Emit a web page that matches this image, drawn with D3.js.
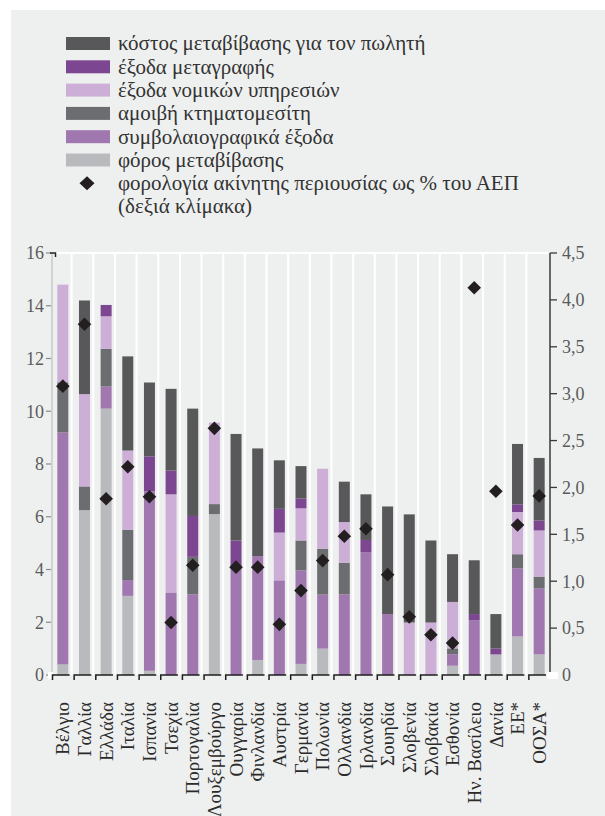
<!DOCTYPE html>
<html>
<head>
<meta charset="utf-8">
<script src="https://cdn.jsdelivr.net/npm/d3@7/dist/d3.min.js"></script>
<style>
  html, body { margin: 0; padding: 0; background: #ffffff; }
  svg { display: block; }
  text { font-family: "Liberation Serif", "DejaVu Serif", serif; }
</style>
</head>
<body>
<svg id="chart" width="605" height="816"></svg>
<script>
// ---- data ----
const categories = ["Βέλγιο","Γαλλία","Ελλάδα","Ιταλία","Ισπανία","Τσεχία","Πορτογαλία","Λουξεμβούργο","Ουγγαρία","Φινλανδία","Αυστρία","Γερμανία","Πολωνία","Ολλανδία","Ιρλανδία","Σουηδία","Σλοβενία","Σλοβακία","Εσθονία","Ην. Βασίλειο","Δανία","ΕΕ*","ΟΟΣΑ*"];
const transferTax   = [0.4, 6.25, 10.1, 3.0, 0.16, 0, 0, 6.1, 0, 0.57, 0, 0.42, 1.0, 0, 0, 0, 0, 0, 0.35, 0, 0.78, 1.46, 0.78];
const notaryFees    = [8.8, 0, 0.84, 0.6, 6.81, 3.13, 3.06, 0, 4.1, 3.94, 3.59, 3.55, 2.05, 3.06, 4.66, 2.31, 0, 0, 0.44, 2.08, 0, 2.59, 2.51];
const agentFees     = [1.9, 0.9, 1.43, 1.9, 0, 0, 1.42, 0.38, 0, 0, 0, 1.13, 1.74, 1.2, 0, 0, 0, 0, 0.22, 0, 0, 0.53, 0.44];
const legalFees     = [3.7, 3.5, 1.23, 3.01, 0, 3.72, 0, 3.09, 0, 0, 1.81, 1.22, 3.03, 1.54, 0, 0, 1.99, 1.99, 1.76, 0, 0, 1.6, 1.75];
const registration  = [0, 0, 0.43, 0, 1.32, 0.9, 1.55, 0, 1.0, 0, 0.9, 0.37, 0, 0, 0.46, 0, 0, 0, 0, 0.23, 0.23, 0.29, 0.38];
const sellerCost    = [0, 3.55, 0, 3.57, 2.8, 3.1, 4.07, 0, 4.04, 4.08, 1.84, 1.23, 0, 1.53, 1.73, 4.08, 4.1, 3.11, 1.81, 2.04, 1.3, 2.29, 2.37];
const propertyTaxGDP = [3.08, 3.74, 1.88, 2.22, 1.9, 0.56, 1.17, 2.63, 1.15, 1.15, 0.54, 0.9, 1.22, 1.48, 1.56, 1.07, 0.62, 0.43, 0.34, 4.13, 1.96, 1.6, 1.91];
const leftTicks  = [0, 2, 4, 6, 8, 10, 12, 14, 16];
const rightTicks = [0, 0.5, 1.0, 1.5, 2.0, 2.5, 3.0, 3.5, 4.0, 4.5];

const seriesKeys   = ["tax", "notary", "agent", "legal", "registration", "seller"];
const seriesLabels = {
  seller: "κόστος μεταβίβασης για τον πωλητή",
  registration: "έξοδα μεταγραφής",
  legal: "έξοδα νομικών υπηρεσιών",
  agent: "αμοιβή κτηματομεσίτη",
  notary: "συμβολαιογραφικά έξοδα",
  tax: "φόρος μεταβίβασης"
};
const colors = {
  seller: "#58585a",
  registration: "#7c4690",
  legal: "#cdaed6",
  agent: "#6c6d70",
  notary: "#a177b0",
  tax: "#b9babd"
};
const legendOrder = ["seller", "registration", "legal", "agent", "notary", "tax"];

const table = categories.map((c, i) => ({
  cat: c, tax: transferTax[i], notary: notaryFees[i], agent: agentFees[i],
  legal: legalFees[i], registration: registration[i], seller: sellerCost[i],
  ptax: propertyTaxGDP[i]
}));

// ---- layout ----
const svg = d3.select("#chart");
const L = 52, R = 550, T = 253, B = 675;

svg.append("rect").attr("x", 11).attr("y", 10).attr("width", 594).attr("height", 806).attr("fill", "#eef0ef");

const x = d3.scaleBand().domain(categories).range([L, R]).paddingInner(0).paddingOuter(0);
const y = d3.scaleLinear().domain([0, 16]).range([B, T]);
const y2 = d3.scaleLinear().domain([0, 4.5]).range([B, T]);
const barW = 11;

// gridlines
const g = svg.append("g");
g.append("line").attr("x1", L).attr("x2", R - 2).attr("y1", T).attr("y2", T)
  .attr("stroke", "#ffffff").attr("stroke-width", 2);
g.selectAll("line.v").data(categories.slice(1)).join("line").attr("class", "v")
  .attr("x1", d => x(d) - 2).attr("x2", d => x(d) - 2)
  .attr("y1", T).attr("y2", B)
  .attr("stroke", "#ffffff").attr("stroke-width", 2);

// bars
const stack = d3.stack().keys(seriesKeys)(table);
svg.append("g").selectAll("g").data(stack).join("g")
  .attr("fill", d => colors[d.key])
  .selectAll("rect").data(d => d).join("rect")
  .attr("x", d => x(d.data.cat) + x.bandwidth() / 2 - barW / 2)
  .attr("width", barW)
  .attr("y", d => y(d[1]))
  .attr("height", d => Math.max(0, y(d[0]) - y(d[1])));

// diamonds
const diamond = "M0,-6.8L6.8,0L0,6.8L-6.8,0Z";
svg.append("g").selectAll("path").data(table).join("path")
  .attr("d", diamond)
  .attr("fill", "#231f20")
  .attr("transform", d => `translate(${x(d.cat) + x.bandwidth() / 2},${y2(d.ptax)})`);

// left axis
const la = svg.append("g");
la.append("line").attr("x1", L).attr("x2", L).attr("y1", T).attr("y2", B)
  .attr("stroke", "#c9cacb").attr("stroke-width", 1.5);
la.selectAll("line.t").data(leftTicks).join("line").attr("class", "t")
  .attr("x1", 46).attr("x2", 51).attr("y1", d => y(d)).attr("y2", d => y(d))
  .attr("stroke", "#8a8a8a").attr("stroke-width", 1.2);
la.selectAll("text").data(leftTicks).join("text")
  .attr("x", 44).attr("y", d => y(d)).attr("dy", "0.35em")
  .attr("text-anchor", "end").attr("font-size", 18).attr("fill", "#5a5a5a")
  .text(d => d);
la.append("path").attr("d", `M50,${T}H55.5V${T + 4}`).attr("fill", "none")
  .attr("stroke", "#222").attr("stroke-width", 1.5);
la.append("rect").attr("x", 48).attr("y", B - 3).attr("width", 5).attr("height", 7).attr("fill", "#ffffff");

// bottom axis marks
svg.append("g").selectAll("path").data(categories).join("path")
  .attr("d", d => `M${x(d) + 0.5},${B + 5}V${B}H${x(d) + x.bandwidth() - 4}`)
  .attr("fill", "none").attr("stroke", "#1e1e1e").attr("stroke-width", 1.5);

// right axis
const ra = svg.append("g");
ra.append("line").attr("x1", R).attr("x2", R).attr("y1", T).attr("y2", B)
  .attr("stroke", "#3a3a3a").attr("stroke-width", 1.5);
ra.selectAll("line.t").data(rightTicks).join("line").attr("class", "t")
  .attr("x1", R).attr("x2", R + 7).attr("y1", d => y2(d)).attr("y2", d => y2(d))
  .attr("stroke", "#3a3a3a").attr("stroke-width", 1.3);
ra.append("rect").attr("x", R - 3).attr("y", B - 3).attr("width", 11).attr("height", 7).attr("fill", "#ffffff");
ra.selectAll("text").data(rightTicks).join("text")
  .attr("x", R + 12).attr("y", d => y2(d)).attr("dy", "0.35em")
  .attr("font-size", 18).attr("fill", "#5a5a5a")
  .text(d => d === 0 ? "0" : d3.format(".1f")(d).replace(".", ","));

// category labels
svg.append("g").selectAll("text").data(categories).join("text")
  .attr("transform", d => `translate(${x(d) + x.bandwidth() / 2},702) rotate(-90)`)
  .attr("dy", "0.35em").attr("text-anchor", "end")
  .attr("font-size", 19).attr("fill", "#2b2b2b")
  .text(d => d);

// legend
const leg = svg.append("g");
const legFont = 21;
legendOrder.forEach((k, i) => {
  const cy = 43.5 + i * 23.3;
  leg.append("rect").attr("x", 66).attr("y", cy - 6.5).attr("width", 44).attr("height", 13).attr("fill", colors[k]);
  leg.append("text").attr("x", 118).attr("y", cy).attr("dy", "0.33em")
    .attr("font-size", legFont).attr("fill", "#333").text(seriesLabels[k]);
});
const dy7 = 43.5 + 6 * 23.3;
leg.append("path").attr("d", "M0,-7L7.5,0L0,7L-7.5,0Z").attr("fill", "#231f20")
  .attr("transform", `translate(87,${dy7})`);
leg.append("text").attr("x", 118).attr("y", dy7).attr("dy", "0.33em")
  .attr("font-size", legFont).attr("fill", "#333").text("φορολογία ακίνητης περιουσίας ως % του ΑΕΠ");
leg.append("text").attr("x", 118).attr("y", dy7 + 22.5).attr("dy", "0.33em")
  .attr("font-size", legFont).attr("fill", "#333").text("(δεξιά κλίμακα)");
</script>
</body>
</html>
